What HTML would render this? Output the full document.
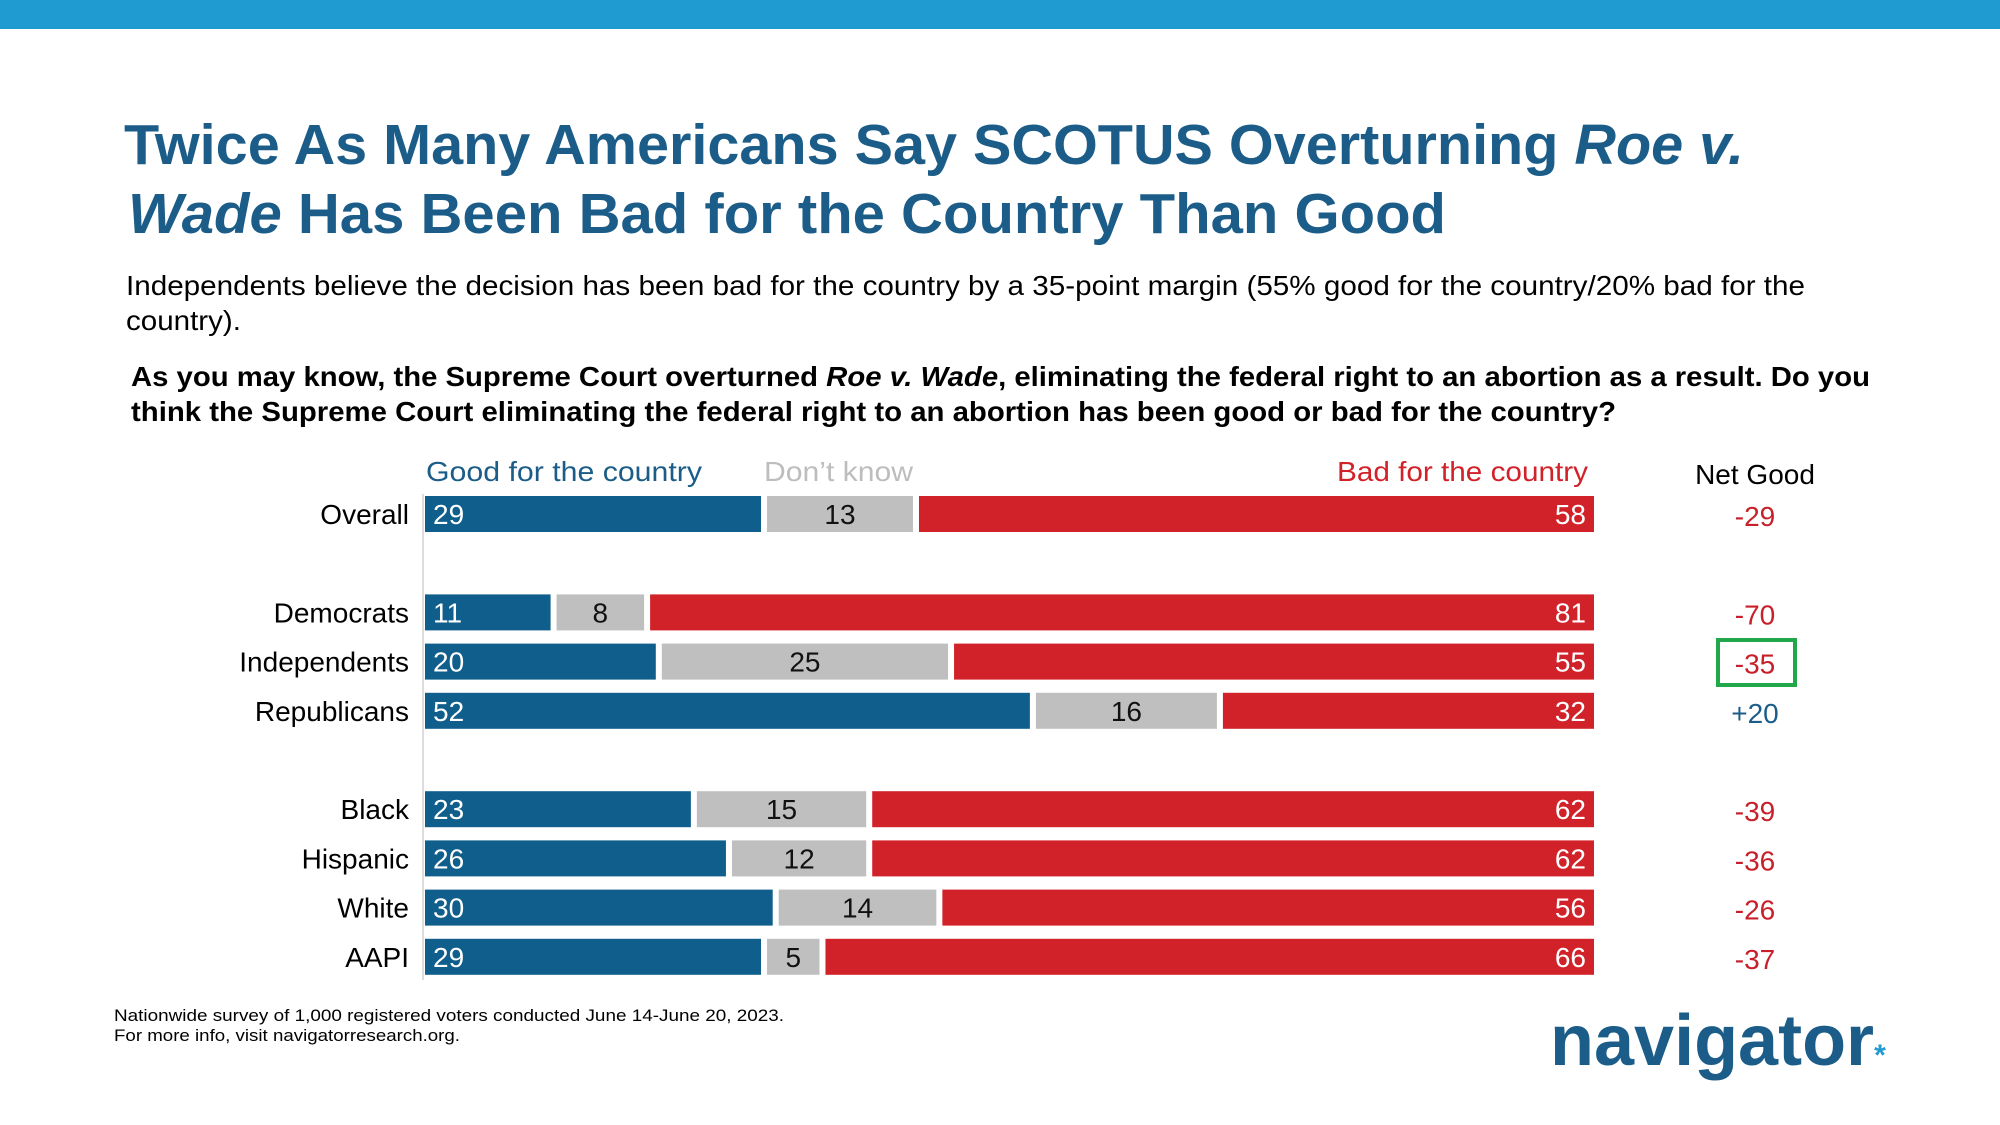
<!DOCTYPE html>
<html><head><meta charset="utf-8"><style>
html,body{margin:0;padding:0;background:#fff;}
svg{display:block;font-family:"Liberation Sans",sans-serif;}
</style></head><body>
<svg id="chart" width="2000" height="1125" viewBox="0 0 2000 1125">
<rect x="0" y="0" width="2000" height="29" fill="#1f9bd1"/>
<g fill="#1b5d88" font-weight="bold" font-size="57">
<text x="124" y="164" textLength="1620" lengthAdjust="spacingAndGlyphs">Twice As Many Americans Say SCOTUS Overturning <tspan font-style="italic">Roe v.</tspan></text>
<text x="128" y="233" textLength="1318" lengthAdjust="spacingAndGlyphs"><tspan font-style="italic">Wade</tspan> Has Been Bad for the Country Than Good</text>
</g>
<g fill="#000" font-size="28">
<text x="126" y="295" textLength="1679" lengthAdjust="spacingAndGlyphs">Independents believe the decision has been bad for the country by a 35-point margin (55% good for the country/20% bad for the</text>
<text x="126" y="330" textLength="115" lengthAdjust="spacingAndGlyphs">country).</text>
</g>
<g fill="#000" font-size="28" font-weight="bold">
<text x="131" y="386" textLength="1739" lengthAdjust="spacingAndGlyphs">As you may know, the Supreme Court overturned <tspan font-style="italic">Roe v. Wade</tspan>, eliminating the federal right to an abortion as a result. Do you</text>
<text x="131" y="421" textLength="1485" lengthAdjust="spacingAndGlyphs">think the Supreme Court eliminating the federal right to an abortion has been good or bad for the country?</text>
</g>
<text x="426" y="481" font-size="28" fill="#1b5d88" textLength="276" lengthAdjust="spacingAndGlyphs">Good for the country</text>
<text x="764" y="481" font-size="28" fill="#bdbdbd" textLength="149" lengthAdjust="spacingAndGlyphs">Don’t know</text>
<text x="1337" y="481" font-size="28" fill="#d12229" textLength="251" lengthAdjust="spacingAndGlyphs">Bad for the country</text>
<text x="1755" y="484" font-size="28" fill="#000" text-anchor="middle">Net Good</text>
<line x1="423" y1="494" x2="423" y2="980" stroke="#dcdcdc" stroke-width="2"/>
<g id="bars"></g>
<rect x="1718" y="640" width="77" height="45" fill="none" stroke="#22a84a" stroke-width="4"/>
<g font-size="17" fill="#000">
<text x="114" y="1021" textLength="670" lengthAdjust="spacingAndGlyphs">Nationwide survey of 1,000 registered voters conducted June 14-June 20, 2023.</text>
<text x="114" y="1041" textLength="346" lengthAdjust="spacingAndGlyphs">For more info, visit navigatorresearch.org.</text>
</g>
<text x="1550" y="1065" font-size="72" font-weight="bold" fill="#1b5d88">navigator<tspan fill="#1f9bd1" font-size="30">*</tspan></text>
</svg>
<script>
const categories=["Overall","Democrats","Independents","Republicans","Black","Hispanic","White","AAPI"];
const goodValues=[29,11,20,52,23,26,30,29];
const dkValues=[13,8,25,16,15,12,14,5];
const badValues=[58,81,55,32,62,62,56,66];
const netLabels=["-29","-70","-35","+20","-39","-36","-26","-37"];
const rowSlots=[0,2,3,4,6,7,8,9];
const X0=425,W=1169,GAP=6,BH=36;
function xs(v){return X0+v/100*W;}
function yc(slot){return 514+slot*49.2;}
const NS="http://www.w3.org/2000/svg";
const g=document.getElementById('bars');
function mk(tag,attrs,parent){const e=document.createElementNS(NS,tag);for(const k in attrs)e.setAttribute(k,attrs[k]);parent.appendChild(e);return e;}
categories.forEach((c,i)=>{
  const y=yc(rowSlots[i]);
  const lab=mk('text',{x:409,y:y+10,'font-size':28,'text-anchor':'end',fill:'#000'},g);
  lab.textContent=c;
  
  
  const segs=[[goodValues[i],'#0f5e8c','#fff','good'],[dkValues[i],'#bfbfbf','#111','dk'],[badValues[i],'#d12229','#fff','bad']];
  let acc=0;
  segs.forEach((s,j)=>{
    const x1=xs(acc)+(j>0?GAP/2:0), x2=xs(acc+s[0])-(j<2?GAP/2:0);
    const r=mk('rect',{x:x1,y:y-BH/2,width:Math.max(0,x2-x1),height:BH,fill:s[1]},g);
    
    
    let tx,anchor;
    if(j==0){tx=x1+8;anchor='start';}else if(j==1){tx=(x1+x2)/2;anchor='middle';}else{tx=x2-8;anchor='end';}
    const t=mk('text',{x:tx,y:y+10,'font-size':28,'text-anchor':anchor,fill:s[2]},g);
    t.textContent=s[0];
    
    
    acc+=s[0];
  });
  const n=mk('text',{x:1755,y:y+12,'font-size':28,'text-anchor':'middle',fill:netLabels[i][0]=='+'?'#1b5d88':'#c8202a'},g);
  n.textContent=netLabels[i];
  
  
});
</script>
</body></html>
